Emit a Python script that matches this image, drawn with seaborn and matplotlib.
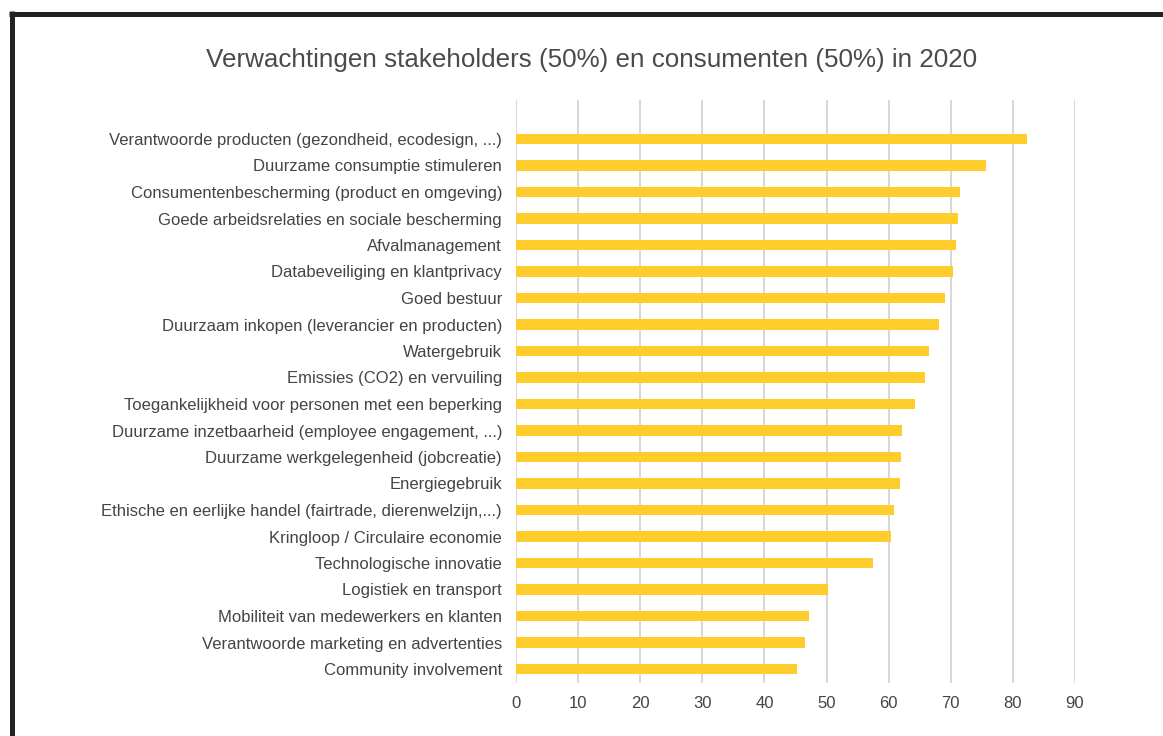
import pandas as pd
import seaborn as sns
import matplotlib.pyplot as plt
from matplotlib.lines import Line2D

# Data
thema = [
    "Verantwoorde producten (gezondheid, ecodesign, ...)",
    "Duurzame consumptie stimuleren",
    "Consumentenbescherming (product en omgeving)",
    "Goede arbeidsrelaties en sociale bescherming",
    "Afvalmanagement",
    "Databeveiliging en klantprivacy",
    "Goed bestuur",
    "Duurzaam inkopen (leverancier en producten)",
    "Watergebruik",
    "Emissies (CO2) en vervuiling",
    "Toegankelijkheid voor personen met een beperking",
    "Duurzame inzetbaarheid (employee engagement, ...)",
    "Duurzame werkgelegenheid (jobcreatie)",
    "Energiegebruik",
    "Ethische en eerlijke handel (fairtrade, dierenwelzijn,...)",
    "Kringloop / Circulaire economie",
    "Technologische innovatie",
    "Logistiek en transport",
    "Mobiliteit van medewerkers en klanten",
    "Verantwoorde marketing en advertenties",
    "Community involvement",
]
score = [82.2, 75.6, 71.5, 71.1, 70.9, 70.4, 69.0, 68.1, 66.5, 65.9, 64.3,
         62.2, 62.0, 61.8, 60.9, 60.3, 57.4, 50.2, 47.2, 46.5, 45.3]
x_ticks = [0, 10, 20, 30, 40, 50, 60, 70, 80, 90]

df = pd.DataFrame({"Thema": thema, "Score": score})

sns.set_style("white")
plt.rcParams["font.family"] = ["Liberation Sans", "DejaVu Sans"]

fig = plt.figure(figsize=(11.63, 7.36), dpi=100)
ax = fig.add_axes([516 / 1163, 1 - 683 / 736, (1075 - 516) / 1163, 583 / 736])

sns.barplot(data=df, x="Score", y="Thema", color="#FECC2B", width=0.38,
            saturation=1, linewidth=0, ax=ax, zorder=3)

ax.set_xlim(0, 90)
ax.set_ylim(20 + 14 / 26.5, -39 / 26.5)
ax.set_xticks(x_ticks)
ax.grid(axis="x", color="#d4d4d4", linewidth=1.3, zorder=0)
ax.grid(axis="y", visible=False)
for s in ax.spines.values():
    s.set_visible(False)
ax.tick_params(axis="both", length=0, labelsize=12, labelcolor="#444444")
ax.tick_params(axis="y", pad=10)
ax.tick_params(axis="x", pad=9)
ax.set_xlabel("")
ax.set_ylabel("")

fig.text(0.5086, 1 - 60 / 736, "Verwachtingen stakeholders (50%) en consumenten (50%) in 2020",
         ha="center", va="center", fontsize=18.7, color="#4a4a4a")

# dark frame at top and left of the screenshot
fig.add_artist(Line2D([12 / 1163, 12 / 1163], [0, 1 - 11 / 736], color="#222222",
                      linewidth=3.6, solid_capstyle="butt"))
fig.add_artist(Line2D([9 / 1163, 1], [1 - 13.5 / 736, 1 - 13.5 / 736], color="#222222",
                      linewidth=3.6, solid_capstyle="butt"))

fig.savefig("out.png", dpi=100, facecolor="white")
